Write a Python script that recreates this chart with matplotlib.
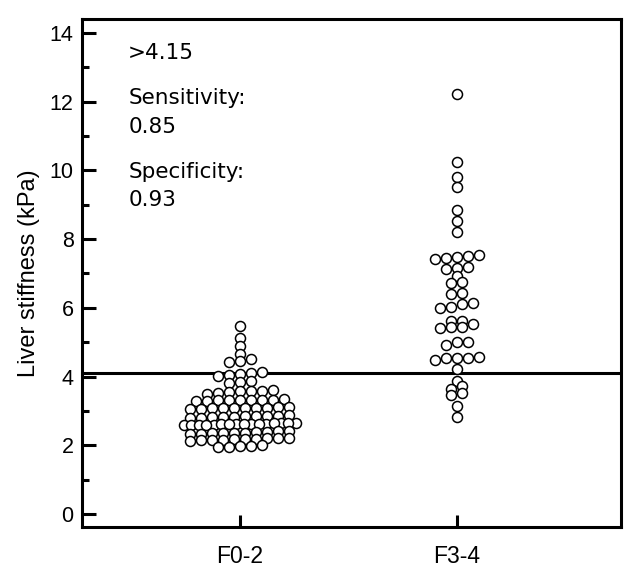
import numpy as np
import pandas as pd
import matplotlib
matplotlib.use('Agg')
import matplotlib.pyplot as plt

# liver stiffness (kPa) per fibrosis group
f02 = [5.47, 5.11, 4.89, 4.65,
       4.41, 4.46, 4.51,
       4.02, 4.04, 4.06, 4.11, 4.13,
       3.81, 3.84, 3.88,
       3.48, 3.51, 3.55, 3.58, 3.60, 3.59, 3.57,
       3.29, 3.31, 3.33, 3.32, 3.34, 3.30, 3.31, 3.33, 3.32,
       3.06, 3.08, 3.10, 3.07, 3.09, 3.05, 3.11, 3.08, 3.07, 3.09,
       2.82, 2.85, 2.80, 2.84, 2.86, 2.81, 2.83, 2.87, 2.80, 2.84,
       2.58, 2.60, 2.62, 2.63, 2.61, 2.64, 2.59, 2.62, 2.66, 2.61,
       2.63, 2.60, 2.65, 2.62, 2.64, 2.60,
       2.35, 2.38, 2.36, 2.40, 2.34, 2.39, 2.37, 2.33, 2.41, 2.36,
       2.15, 2.18, 2.20, 2.14, 2.17, 2.21, 2.16, 2.19, 2.13, 2.20,
       1.94, 1.97, 1.96, 2.00, 1.98]
f34 = [12.22, 10.25, 9.82, 9.53, 8.85, 8.53, 8.22,
       7.42, 7.45, 7.48, 7.51, 7.54, 7.13, 7.15, 7.20,
       6.93, 6.71, 6.76, 6.40, 6.42, 5.99, 6.02, 6.13, 6.11,
       5.63, 5.63, 5.40, 5.43, 5.45, 5.53, 4.92, 5.01, 5.01,
       4.48, 4.53, 4.53, 4.53, 4.56, 4.21, 3.88, 3.63, 3.73,
       3.46, 3.51, 3.14, 2.83]
groups = ['F0-2', 'F3-4']
cutoff = 4.1
notes = ['>4.15', 'Sensitivity:', '0.85', 'Specificity:', '0.93']
note_y = [13.42, 12.1, 11.26, 9.95, 9.14]

df = pd.DataFrame({'group': [groups[0]] * len(f02) + [groups[1]] * len(f34),
                   'ls': f02 + f34})


def row_offsets(vals, ppx, h=0.15, sp=11.0, maxw=112.0):
    # dot-plot layout: values closer than h share a row, spread side by side
    vals = np.asarray(vals)
    idx = np.argsort(vals)
    out = np.zeros(len(vals))
    rows, cur = [], [idx[0]]
    for i in idx[1:]:
        if vals[i] - vals[cur[0]] < h:
            cur.append(i)
        else:
            rows.append(cur)
            cur = [i]
    rows.append(cur)
    for r in rows:
        n = len(r)
        step = sp if n < 2 else min(sp, maxw / (n - 1))
        for j, i in enumerate(r):
            out[i] = (j - (n - 1) / 2) * step / ppx
    return out


fig = plt.figure(figsize=(6.33, 5.82), dpi=100)
ax = fig.add_axes([0.1295, 0.0945, 0.8515, 0.8725])
ax.set_xlim(-0.728, 1.756)
ax.set_ylim(-0.38, 14.4)

p0 = ax.transData.transform((0, 0))
p1 = ax.transData.transform((1, 1))
ppx = p1[0] - p0[0]

for k, g in enumerate(groups):
    v = df.loc[df['group'] == g, 'ls'].values
    x = k + row_offsets(v, ppx)
    ax.scatter(x, v, s=52, facecolor='white', edgecolor='black', linewidth=1.1, zorder=3)

ax.axhline(cutoff, color='black', lw=2.2, zorder=2)

for t, y in zip(notes, note_y):
    ax.text(-0.515, y, t, fontsize=15.5, family='DejaVu Sans', va='center', ha='left')

ax.set_xticks([0, 1])
ax.set_xticklabels(groups)
ax.set_yticks(np.arange(0, 15, 2))
ax.set_yticks(np.arange(1, 15, 2), minor=True)
ax.tick_params(axis='y', which='major', direction='in', length=10, width=2.2, pad=6,
               labelsize=15.5, labelfontfamily='Liberation Sans')
ax.tick_params(axis='y', which='minor', direction='in', length=5, width=2.2)
ax.tick_params(axis='x', direction='in', length=9, width=2.2, pad=13,
               labelsize=16.5, labelfontfamily='Liberation Sans')
ax.set_ylabel('Liver stiffness (kPa)', fontsize=17, family='Liberation Sans', labelpad=7)
for s in ax.spines.values():
    s.set_linewidth(2.2)

plt.savefig('out.png', dpi=100)
